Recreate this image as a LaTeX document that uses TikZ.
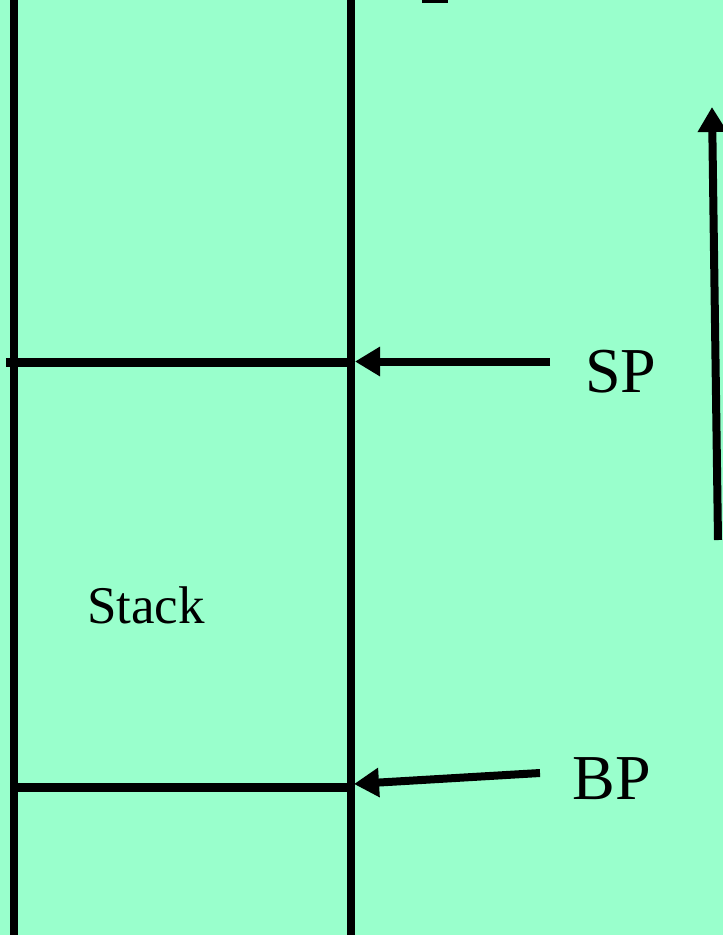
\documentclass[tikz,border=0pt]{standalone}
\usepackage{fontspec}
\setmainfont{Liberation Serif}
\usepackage{tikz}
\usetikzlibrary{arrows.meta,positioning}
\definecolor{slidegreen}{HTML}{99FFCC}

\begin{document}
\begin{tikzpicture}[
    x=1pt, y=-1pt,
    wall/.style={draw=black, line width=8.5pt},
    ptr/.style={draw=black, line width=8pt, -{Triangle[length=25pt,width=28pt]}},
    reg/.style={font=\fontsize{64}{64}\selectfont, inner sep=0pt, anchor=base},
    lbl/.style={font=\fontsize{53}{53}\selectfont, inner sep=0pt, anchor=base}
]

% Background
\fill[slidegreen] (0,0) rectangle (723,935);
\useasboundingbox (0,0) rectangle (723,935);

% Stack walls
\coordinate (ltop) at (14,0);
\coordinate (lbot) at (14,935);
\coordinate (rtop) at (351,0);
\coordinate (rbot) at (351,935);
\draw[wall] (ltop) -- (lbot);
\draw[wall] (rtop) -- (rbot);

% Frame boundaries
\coordinate (spleft) at (6,362.5);
\coordinate (spright) at (351,362.5);
\coordinate (bpleft) at (14,787.5);
\coordinate (bpright) at (351,787.5);
\draw[wall] (spleft) -- (spright);
\draw[wall] (bpleft) -- (bpright);

% Cut-off mark at the top
\fill[black] (422,0) rectangle (448,3);

% Labels
\node[lbl] (stack) at (146,623) {Stack};
\node[reg] (sp) at (621,392) {SP};
\node[reg] (bp) at (612,799) {BP};

% Pointers
\coordinate (sptail) at (550,361.5);
\coordinate (sphead) at (355,361.5);
\coordinate (bptail) at (540,773);
\coordinate (bphead) at (354,784);
\draw[ptr] (sptail) -- (sphead);
\draw[ptr] (bptail) -- (bphead);

% Growth direction
\coordinate (growlow) at (718,540);
\coordinate (growhigh) at (712,107);
\draw[ptr] (growlow) -- (growhigh);

\end{tikzpicture}
\end{document}
